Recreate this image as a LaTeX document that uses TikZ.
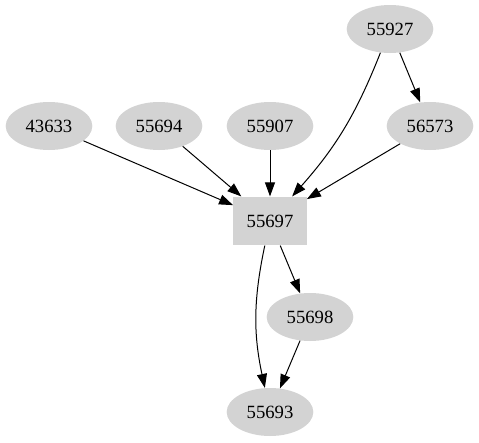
\documentclass[tikz,border=0pt]{standalone}
\usepackage{fontspec}
\setmainfont{Liberation Serif}
\usetikzlibrary{shapes.geometric, arrows.meta, positioning}
\definecolor{nodegray}{HTML}{D3D3D3}
\tikzstyle{oval} = [ellipse, fill=nodegray, minimum width=65pt, minimum height=36pt,
	inner sep=0pt, font=\fontsize{14}{16}\selectfont]
\tikzstyle{box} = [rectangle, fill=nodegray, minimum width=55pt, minimum height=36.5pt,
	inner sep=0pt, font=\fontsize{14}{16}\selectfont]
\tikzstyle{arrow} = [-{Triangle[length=10.5pt, width=7.5pt]}, black, line width=0.75pt]

\begin{document}
\begin{tikzpicture}[x=0.75pt, y=-0.75pt]
	\useasboundingbox (0,0) rectangle (479,443);

	% set up nodes
	\node (n55927) [oval] at (390,29) {55927};
	\node (n43633) [oval] at (49,126) {43633};
	\node (n55694) [oval] at (159,126) {55694};
	\node (n55907) [oval] at (270,126) {55907};
	\node (n56573) [oval] at (430,126) {56573};
	\node (n55697) [box] at (270,221) {55697};
	\node (n55698) [oval] at (310,317) {55698};
	\node (n55693) [oval] at (270,412) {55693};

	% set up edges between nodes
	\draw [arrow] (n55927) to[bend left=10] (n55697);
	\draw [arrow] (n55927) -- (n56573);
	\draw [arrow] (n43633) -- (n55697);
	\draw [arrow] (n55694) -- (n55697);
	\draw [arrow] (n55907) -- (n55697);
	\draw [arrow] (n56573) -- (n55697);
	\draw [arrow] (n55697) -- (n55698);
	\draw [arrow] (n55697) to[bend right=12] (n55693);
	\draw [arrow] (n55698) -- (n55693);

\end{tikzpicture}
\end{document}
